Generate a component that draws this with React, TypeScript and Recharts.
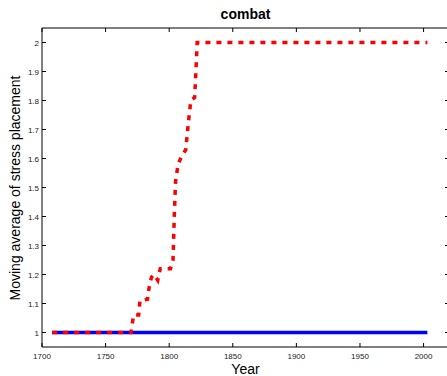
import React from "react";
import { LineChart, Line, XAxis, YAxis, Label } from "recharts";

const blueYears = [1708, 2003];
const blueValues = [1, 1];

const redYears = [1708, 1770, 1772, 1776, 1777, 1783, 1784, 1786, 1788, 1791, 1793, 1801, 1803, 1804, 1805, 1807, 1810, 1813, 1815, 1817, 1820, 1821, 1822, 2003];
const redValues = [1, 1, 1.06, 1.06, 1.11, 1.115, 1.15, 1.19, 1.2, 1.18, 1.22, 1.22, 1.25, 1.4, 1.52, 1.58, 1.61, 1.63, 1.72, 1.8, 1.81, 1.9, 2, 2];

const xTicks = [1700, 1750, 1800, 1850, 1900, 1950, 2000];
const yTicks = [1, 1.1, 1.2, 1.3, 1.4, 1.5, 1.6, 1.7, 1.8, 1.9, 2];

const blueData = blueYears.map((y, i) => ({ year: y, v: blueValues[i] }));
const redData = redYears.map((y, i) => ({ year: y, v: redValues[i] }));

const FONT = "'Liberation Sans', Arial, Helvetica, sans-serif";
const TL = 4;

const BottomTick = (p: any) => (
  <g>
    <line x1={p.x} x2={p.x} y1={p.y} y2={p.y - TL} stroke="#000" strokeWidth={1} />
    <text x={p.x} y={p.y + 12} textAnchor="middle" fontSize={8} fontFamily={FONT} fill="#222">
      {p.payload.value}
    </text>
  </g>
);
const TopTick = (p: any) => (
  <line x1={p.x} x2={p.x} y1={p.y} y2={p.y + TL} stroke="#000" strokeWidth={1} />
);
const LeftTick = (p: any) => (
  <g>
    <line x1={p.x} x2={p.x + TL} y1={p.y} y2={p.y} stroke="#000" strokeWidth={1} />
    <text x={p.x - 3} y={p.y + 3} textAnchor="end" fontSize={8} fontFamily={FONT} fill="#222">
      {String(Math.round(p.payload.value * 10) / 10)}
    </text>
  </g>
);
const RightTick = (p: any) => (
  <line x1={p.x} x2={p.x - TL} y1={p.y} y2={p.y} stroke="#000" strokeWidth={1} />
);

export default function App() {
  return (
    <div style={{ position: "absolute", left: 0, top: 0, width: 447, height: 376, overflow: "hidden", background: "#fff" }}>
      <LineChart width={460} height={376} margin={{ top: 27, right: 10, bottom: 0, left: 0 }}>
        <XAxis
          xAxisId="b"
          dataKey="year"
          type="number"
          domain={[1700, 2020]}
          ticks={xTicks}
          allowDataOverflow
          tickSize={0}
          tickMargin={0}
          tickLine={false}
          height={29}
          axisLine={{ stroke: "#000", strokeWidth: 1 }}
          tick={BottomTick}
          interval={0}
        >
          <Label
            content={() => (
              <text x={245.5} y={373.5} textAnchor="middle" fontSize={14} fontFamily={FONT} fill="#000">
                Year
              </text>
            )}
          />
        </XAxis>
        <XAxis
          xAxisId="t"
          orientation="top"
          dataKey="year"
          type="number"
          domain={[1700, 2020]}
          ticks={xTicks}
          allowDataOverflow
          tickSize={0}
          tickMargin={0}
          tickLine={false}
          height={1}
          axisLine={{ stroke: "#000", strokeWidth: 1 }}
          tick={TopTick}
          interval={0}
        >
          <Label
            content={() => (
              <text x={245.5} y={18.5} textAnchor="middle" fontSize={14} fontWeight="bold" fontFamily={FONT} fill="#000">
                combat
              </text>
            )}
          />
        </XAxis>
        <YAxis
          yAxisId="l"
          type="number"
          domain={[0.95, 2.05]}
          ticks={yTicks}
          allowDataOverflow
          tickSize={0}
          tickMargin={0}
          tickLine={false}
          width={42}
          axisLine={{ stroke: "#000", strokeWidth: 1 }}
          tick={LeftTick}
          interval={0}
        >
          <Label
            content={() => (
              <text x={15} y={188} transform="rotate(-90 15 188)" textAnchor="middle" dominantBaseline="central" fontSize={14} fontFamily={FONT} fill="#000">
                Moving average of stress placement
              </text>
            )}
          />
        </YAxis>
        <YAxis
          yAxisId="r"
          orientation="right"
          type="number"
          domain={[0.95, 2.05]}
          ticks={yTicks}
          allowDataOverflow
          tickSize={0}
          tickMargin={0}
          tickLine={false}
          width={1}
          axisLine={{ stroke: "#000", strokeWidth: 1 }}
          tick={RightTick}
          interval={0}
        />
        <Line
          xAxisId="b"
          yAxisId="l"
          data={blueData}
          dataKey="v"
          type="linear"
          stroke="#0000ff"
          strokeWidth={3.5}
          dot={false}
          isAnimationActive={false}
        />
        <Line
          xAxisId="b"
          yAxisId="l"
          data={redData}
          dataKey="v"
          type="linear"
          stroke="#ff0000"
          strokeWidth={3.5}
          strokeDasharray="5 6"
          dot={false}
          isAnimationActive={false}
        />
      </LineChart>
    </div>
  );
}
